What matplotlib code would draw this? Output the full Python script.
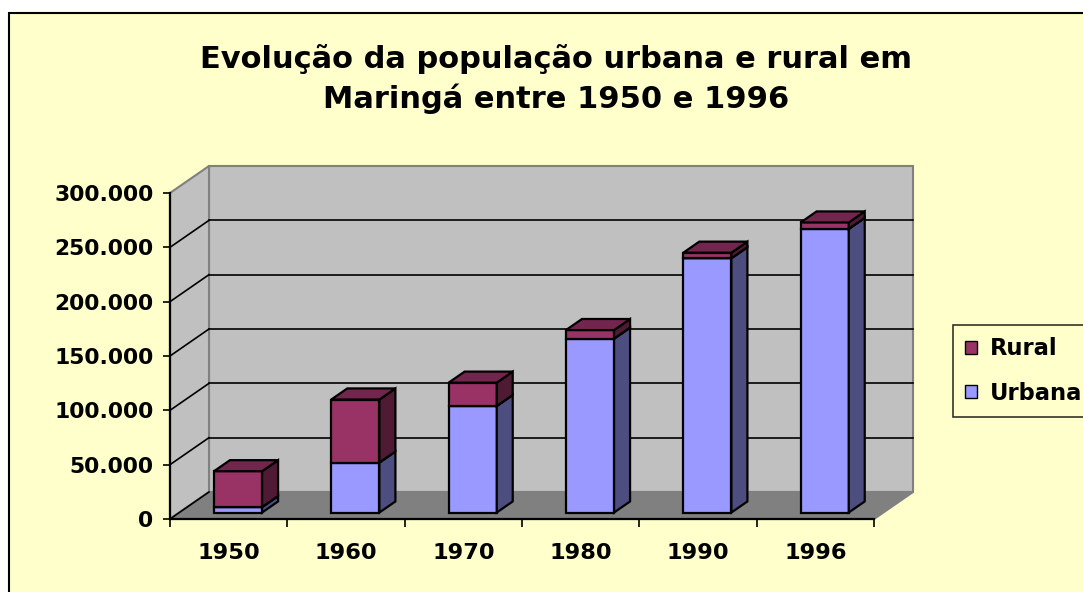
import matplotlib
matplotlib.use('Agg')
import matplotlib.pyplot as plt
from matplotlib.patches import Polygon, Rectangle, Patch
from matplotlib.ticker import FixedLocator

# ---- data ----
years = ['1950', '1960', '1970', '1980', '1990', '1996']
urbana = [5000, 46000, 98000, 160000, 234000, 261000]
rural = [33000, 58000, 21500, 7900, 5100, 5900]
yticks = [0, 50000, 100000, 150000, 200000, 250000, 300000]
ytick_labels = ['0', '50.000', '100.000', '150.000', '200.000', '250.000', '300.000']
title = 'Evolução da população urbana e rural em\nMaringá entre 1950 e 1996'

plt.rcParams['font.family'] = ['DejaVu Sans']
plt.rcParams['font.weight'] = 'bold'

W, H = 1083, 592
fig = plt.figure(figsize=(W / 100, H / 100), dpi=100, facecolor='white')
bg = Rectangle((9 / W, -0.05), 1.2, 1.05 - 13 / H, transform=fig.transFigure,
               facecolor='#FFFFCC', edgecolor='black', lw=1.5, zorder=-10)
fig.patches.append(bg)

ax = fig.add_axes([170 / W, (H - 519) / H, 704 / W, 326 / H])
ax.set_xlim(0, 6)
ax.set_ylim(0, 300000)
ax.patch.set_visible(False)

px_x = 704 / 6.0
px_y = 326 / 300000.0
DX = 39 / px_x
DY = 27 / px_y

wall = '#C0C0C0'
floor = '#808080'
edge_gray = '#808080'

# back wall
ax.add_patch(Polygon([(DX, DY), (6 + DX, DY), (6 + DX, 300000 + DY), (DX, 300000 + DY)],
                     closed=True, facecolor=wall, edgecolor=edge_gray, lw=1.5,
                     clip_on=False, zorder=0.5))
# side wall
ax.add_patch(Polygon([(0, 0), (DX, DY), (DX, 300000 + DY), (0, 300000)],
                     closed=True, facecolor=wall, edgecolor=edge_gray, lw=1.5,
                     clip_on=False, zorder=0.5))
# floor
ax.add_patch(Polygon([(0, 0), (6, 0), (6 + DX, DY), (DX, DY)],
                     closed=True, facecolor=floor, edgecolor=edge_gray, lw=1.5,
                     clip_on=False, zorder=0.6))

for v in yticks[1:-1]:
    ax.plot([DX, 6 + DX], [v + DY, v + DY], color='black', lw=1.2, clip_on=False, zorder=0.8)
for v in yticks[:-1]:
    ax.plot([0, DX], [v, v + DY], color='black', lw=1.2, clip_on=False, zorder=0.8)

# bars
f0, f1 = 0.24, 0.65
bw = 0.41
ox, oy = f0 * DX, f0 * DY
ddx, ddy = (f1 - f0) * DX, (f1 - f0) * DY

colors = {
    'Urbana': ('#9999FF', '#4D4D80', '#7373BF'),
    'Rural': ('#993366', '#4F1A33', '#73264D'),
}


def box(x0, y0, y1, cols, z):
    front, side, top = cols
    kw = dict(edgecolor='black', lw=1.6, clip_on=False, zorder=z, joinstyle='miter')
    ax.add_patch(Rectangle((x0, y0 + oy), bw, y1 - y0, facecolor=front, **kw))
    ax.add_patch(Polygon([(x0 + bw, y0 + oy), (x0 + bw + ddx, y0 + oy + ddy),
                          (x0 + bw + ddx, y1 + oy + ddy), (x0 + bw, y1 + oy)],
                         closed=True, facecolor=side, **kw))
    ax.add_patch(Polygon([(x0, y1 + oy), (x0 + ddx, y1 + oy + ddy),
                          (x0 + bw + ddx, y1 + oy + ddy), (x0 + bw, y1 + oy)],
                         closed=True, facecolor=top, **kw))


for i, (u, r) in enumerate(zip(urbana, rural)):
    x0 = i + 0.5 - bw / 2 + ox
    box(x0, 0, u, colors['Urbana'], 3 + i * 0.1)
    box(x0, u, u + r, colors['Rural'], 3.05 + i * 0.1)

# axes / ticks
for s in ['top', 'right']:
    ax.spines[s].set_visible(False)
for s in ['left', 'bottom']:
    ax.spines[s].set_color('black')
    ax.spines[s].set_linewidth(1.6)
    ax.spines[s].set_zorder(5)

ax.yaxis.set_major_locator(FixedLocator(yticks))
ax.set_yticklabels(ytick_labels)
ax.tick_params(axis='y', direction='out', length=5, width=1.2, pad=7, labelsize=15.7)

ax.set_xticks(range(7))
ax.set_xticklabels([])
ax.set_xticks([i + 0.5 for i in range(6)], minor=True)
ax.set_xticklabels(years, minor=True)
ax.tick_params(axis='x', which='major', direction='out', length=6, width=1.2)
ax.tick_params(axis='x', which='minor', length=0, pad=17, labelsize=16.2)

fig.text(556 / W, 1 - 79 / H, title, ha='center', va='center', fontsize=22,
         fontweight='bold', linespacing=1.4)

handles = [Patch(facecolor=colors['Rural'][0], edgecolor='black', lw=1),
           Patch(facecolor=colors['Urbana'][0], edgecolor='black', lw=1)]
leg = fig.legend(handles, ['Rural', 'Urbana'], loc='upper left',
                 bbox_to_anchor=(953 / W, 1 - 325 / H), borderaxespad=0,
                 fontsize=16.3, handlelength=0.5, handleheight=0.5,
                 handletextpad=0.6, labelspacing=0.95, borderpad=0.55,
                 frameon=True, fancybox=False, shadow=False)
leg.get_frame().set_facecolor('#FFFFCC')
leg.get_frame().set_edgecolor('black')
leg.get_frame().set_linewidth(1.2)

fig.savefig('out.png', dpi=100, facecolor='white')
